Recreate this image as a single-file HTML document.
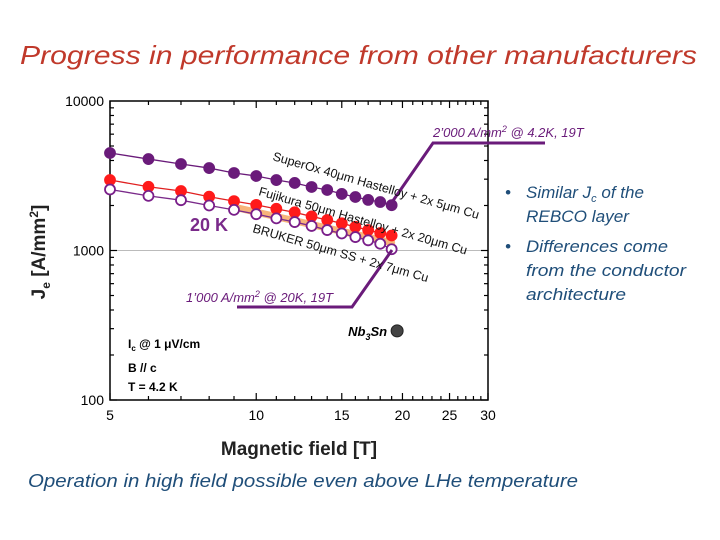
<!DOCTYPE html>
<html><head><meta charset="utf-8"><style>
body{margin:0;background:#fff;width:720px;height:540px;overflow:hidden;font-family:"Liberation Sans",sans-serif}
svg{display:block}
</style></head><body>
<svg id="c" width="720" height="540">
<text x="20" y="64" textLength="677" lengthAdjust="spacingAndGlyphs" font-size="26" font-style="italic" fill="#c0392b">Progress in performance from other manufacturers</text>
<g id="plot"></g>
<g font-size="17" font-style="italic" fill="#1f4e79">
<text x="505" y="198">•</text><text x="526" y="198">Similar J<tspan font-size="11" dy="4">c</tspan><tspan dy="-4"> of the</tspan></text>
<text x="526" y="222" textLength="103" lengthAdjust="spacingAndGlyphs">REBCO layer</text>
<text x="505" y="252">•</text><text x="526" y="252" textLength="142" lengthAdjust="spacingAndGlyphs">Differences come</text>
<text x="526" y="276" textLength="160" lengthAdjust="spacingAndGlyphs">from the conductor</text>
<text x="526" y="300" textLength="100" lengthAdjust="spacingAndGlyphs">architecture</text>
</g>
<text x="28" y="487" textLength="550" lengthAdjust="spacingAndGlyphs" font-size="18" font-style="italic" fill="#1f4e79">Operation in high field possible even above LHe temperature</text>
</svg>
<script>
const fields=[5,6,7,8,9,10,11,12,13,14,15,16,17,18,19];
const superOx=[4490,4090,3790,3560,3300,3150,2960,2830,2660,2540,2390,2280,2180,2110,2010];
const fujikura=[2960,2670,2500,2290,2140,2020,1900,1800,1690,1600,1520,1440,1370,1310,1260];
const bruker=[2560,2320,2170,2000,1870,1750,1640,1550,1460,1370,1300,1230,1170,1110,1020];
const bandFields=[9,19];
const bandVals=[1950,1130];
const nb3sn={b:19.5,j:290};
const xTicks=[5,10,15,20,25,30];
const yTicks=[100,1000,10000];
const NS='http://www.w3.org/2000/svg';
const X0=110,X1=488,Y0=101,Y1=400;
const xs=b=>X0+(X1-X0)*Math.log10(b/5)/Math.log10(6);
const ys=j=>Y1-(Y1-Y0)*Math.log10(j/100)/2;
const g=document.getElementById('plot');
function mk(t,a,p){const e=document.createElementNS(NS,t);for(const k in a)e.setAttribute(k,a[k]);(p||g).appendChild(e);return e;}
let gl=mk('line',{x1:X0,x2:X1,y1:ys(1000),y2:ys(1000),stroke:'#bbb','stroke-width':1});


let fr=mk('rect',{x:X0,y:Y0,width:X1-X0,height:Y1-Y0,fill:'none',stroke:'#000','stroke-width':1.5});


for(let b=5;b<=30;b++){const L=xTicks.includes(b)?7:4;mk('line',{x1:xs(b),x2:xs(b),y1:Y1,y2:Y1-L,stroke:'#000','stroke-width':1.2});mk('line',{x1:xs(b),x2:xs(b),y1:Y0,y2:Y0+L,stroke:'#000','stroke-width':1.2});}
for(let d=100;d<10000;d*=10)for(let m=1;m<10;m++){const y=ys(d*m);const L=m==1?7:4;mk('line',{x1:X0,x2:X0+L,y1:y,y2:y,stroke:'#000','stroke-width':1.2});mk('line',{x1:X1,x2:X1-L,y1:y,y2:y,stroke:'#000','stroke-width':1.2});}
xTicks.forEach(b=>{const t=mk('text',{x:xs(b),y:Y1+20,'text-anchor':'middle','font-size':14});t.textContent=b;

});
yTicks.forEach(j=>{const t=mk('text',{x:X0-6,y:ys(j)+5,'text-anchor':'end','font-size':14});t.textContent=j;

});
let xt=mk('text',{x:299,y:455,'text-anchor':'middle','font-size':19,'font-weight':'bold',fill:'#222'});xt.textContent='Magnetic field [T]';


let yt=mk('text',{transform:'translate(45,252) rotate(-90)','text-anchor':'middle','font-size':19,'font-weight':'bold',fill:'#222'});
yt.innerHTML='J<tspan font-size="12" dy="5">e</tspan><tspan dy="-5">  [A/mm</tspan><tspan font-size="12" dy="-7">2</tspan><tspan dy="7">]</tspan>';


let bd=mk('line',{x1:xs(bandFields[0]),y1:ys(bandVals[0]),x2:xs(bandFields[1]),y2:ys(bandVals[1]),stroke:'#f8b47a','stroke-width':7,'stroke-linecap':'round'});


function series(vals,name,lineC,fill,stroke){
 const pl=mk('polyline',{points:fields.map((b,i)=>xs(b)+','+ys(vals[i])).join(' '),fill:'none',stroke:lineC,'stroke-width':1.3});
 
 
 fields.forEach((b,i)=>{const c=mk('circle',{cx:xs(b),cy:ys(vals[i]),r:5,fill:fill,stroke:stroke,'stroke-width':1.8});
 
 });
}
series(superOx,'superox','#6a1b7a','#6a1b7a','#6a1b7a');
series(fujikura,'fujikura','#e02020','#ff1a1a','#ff1a1a');
series(bruker,'bruker','#7a2a8a','#fff','#7a1f8a');
let nb=mk('circle',{cx:xs(nb3sn.b),cy:ys(nb3sn.j),r:6,fill:'#444',stroke:'#222'});


let nbt=mk('text',{x:xs(nb3sn.b)-10,y:ys(nb3sn.j)+5,'text-anchor':'end','font-size':13,'font-weight':'bold','font-style':'italic'});
nbt.innerHTML='Nb<tspan font-size="9" dy="4">3</tspan><tspan dy="-4">Sn</tspan>';


let a1=mk('polyline',{points:'390,205 433,143 545,143',fill:'none',stroke:'#6a1b7a','stroke-width':3});


let a1t=mk('text',{x:433,y:137,'font-size':13,'font-style':'italic',fill:'#6a1b7a'});a1t.innerHTML='2’000 A/mm<tspan font-size="9" dy="-5">2</tspan><tspan dy="5"> @ 4.2K, 19T</tspan>';


let a2=mk('polyline',{points:'392,250 352,307 237,307',fill:'none',stroke:'#6a1b7a','stroke-width':3});


let a2t=mk('text',{x:186,y:302,'font-size':13,'font-style':'italic',fill:'#6a1b7a'});a2t.innerHTML='1’000 A/mm<tspan font-size="9" dy="-5">2</tspan><tspan dy="5"> @ 20K, 19T</tspan>';


let k20=mk('text',{x:190,y:231,'font-size':18,'font-weight':'bold',fill:'#7a2a8a'});k20.textContent='20 K';


const labs=[['SuperOx 40μm Hastelloy + 2x 5μm Cu',272,160,'superox-label'],['Fujikura 50μm Hastelloy + 2x 20μm Cu',258,195,'fujikura-label'],['BRUKER 50μm SS + 2x 7μm Cu',252,232,'bruker-label']];
labs.forEach(l=>{const t=mk('text',{x:l[1],y:l[2],'font-size':12.5,fill:'#111',transform:`rotate(16 ${l[1]} ${l[2]})`});t.textContent=l[0];

});
let c1=mk('text',{x:128,y:348,'font-size':12,'font-weight':'bold'});c1.innerHTML='I<tspan font-size="8" dy="3">c</tspan><tspan dy="-3"> @ 1 μV/cm</tspan>';


let c2=mk('text',{x:128,y:372,'font-size':12,'font-weight':'bold'});c2.textContent='B // c';


let c3=mk('text',{x:128,y:391,'font-size':12,'font-weight':'bold'});c3.textContent='T = 4.2 K';


</script>
</body></html>
